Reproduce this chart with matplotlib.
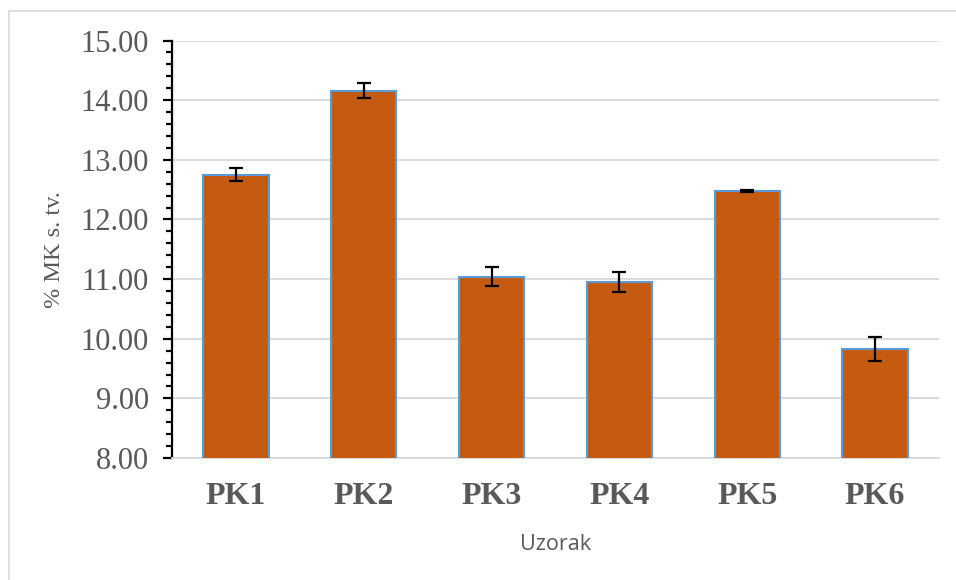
import matplotlib.pyplot as plt
import numpy as np
from matplotlib.ticker import MultipleLocator, FormatStrFormatter
from matplotlib.patches import Rectangle

# % MK s. tv. po uzorku, sa standardnom devijacijom
samples = ['PK1', 'PK2', 'PK3', 'PK4', 'PK5', 'PK6']
mk_values = [12.75, 14.16, 11.04, 10.95, 12.48, 9.83]
mk_errors = [0.11, 0.12, 0.16, 0.17, 0.02, 0.20]

bar_color = "#C55A11"
edge_color = "#5B9BD5"
text_color = "#595959"
grid_color = "#D9D9D9"

fig = plt.figure(figsize=(9.56, 5.8), dpi=100)
ax = fig.add_axes([172 / 956, 1 - 458 / 580, (939 - 172) / 956, (458 - 40.5) / 580])

# light grey chart-area border (only top/left visible in the crop)
fig.patches.append(Rectangle((8.5 / 956, -0.05), 1.2, 1 - 11 / 580 + 0.05,
                             transform=fig.transFigure, fill=False,
                             edgecolor=grid_color, linewidth=1.2))

x = np.arange(len(samples))
ax.bar(x, mk_values, 0.51, color=bar_color, edgecolor=edge_color, linewidth=1.5, zorder=3)
ax.errorbar(x, mk_values, yerr=mk_errors, fmt='none', ecolor='black',
            elinewidth=1.6, capsize=5, capthick=1.6, zorder=4)

ax.set_xlim(-0.5, len(samples) - 0.5)
ax.set_ylim(8, 15)
ax.yaxis.set_major_locator(MultipleLocator(1))
ax.yaxis.set_minor_locator(MultipleLocator(0.2))
ax.yaxis.set_major_formatter(FormatStrFormatter('%.2f'))
ax.grid(axis='y', color=grid_color, linewidth=1.3, zorder=0)

for side in ['top', 'right']:
    ax.spines[side].set_visible(False)
ax.spines['left'].set_linewidth(1.6)
ax.spines['left'].set_color('black')
ax.spines['bottom'].set_color(grid_color)
ax.spines['bottom'].set_linewidth(1.3)

ax.tick_params(axis='y', which='major', length=6.5, width=1.6, color='black',
               labelsize=22, labelcolor=text_color, pad=10)
ax.tick_params(axis='y', which='minor', length=4.5, width=1.6, color='black')
ax.tick_params(axis='x', length=0, pad=17, labelcolor=text_color)
ax.set_xticks(x)
ax.set_xticklabels(samples, fontsize=23, fontweight='bold', family='Liberation Serif')
for lbl in ax.get_yticklabels():
    lbl.set_family('Liberation Serif')

ax.set_ylabel('% MK s. tv.', family='Liberation Serif', fontsize=17.5,
              color=text_color, labelpad=11)
ax.set_xlabel('Uzorak', family='Open Sans', fontsize=15.5, color=text_color, labelpad=17)

plt.savefig("out.png", dpi=100)
